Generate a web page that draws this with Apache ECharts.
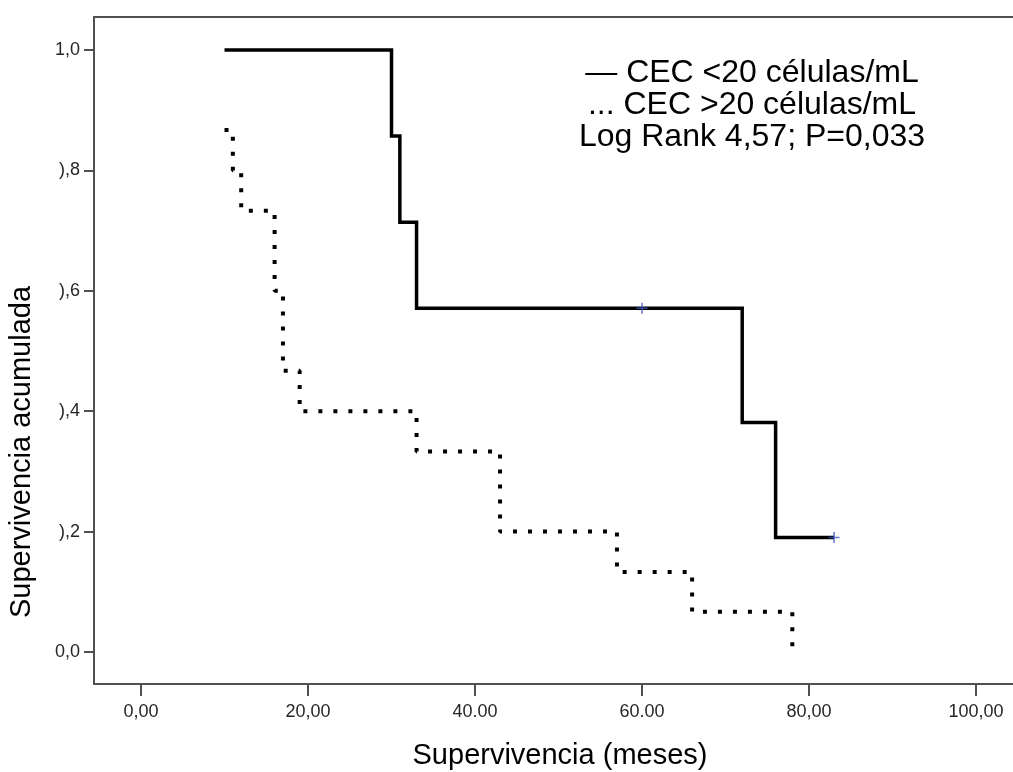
<!DOCTYPE html>
<html>
<head>
<meta charset="utf-8">
<script src="https://cdn.jsdelivr.net/npm/echarts@6/dist/echarts.min.js"></script>
<style>
html,body{margin:0;padding:0;background:#fff;}
#chart{width:1013px;height:772px;}
</style>
</head>
<body>
<div id="chart"></div>
<script>
// ---- data ----
var lowTimes = [10, 30, 31, 33, 72, 76, 83];
var lowSurv  = [1.0, 0.857, 0.714, 0.571, 0.381, 0.190, 0.190];
var highTimes = [10, 11, 12, 16, 17, 19, 33, 43, 57, 66, 78];
var highSurv  = [0.867, 0.800, 0.733, 0.600, 0.467, 0.400, 0.333, 0.200, 0.133, 0.067, 0.0];
var censorTimes = [60, 83];
var censorSurv  = [0.571, 0.190];
var xTickValues = [0, 20, 40, 60, 80, 100];
var xTickLabels = ["0,00", "20,00", "40.00", "60.00", "80,00", "100,00"];
var yTickValues = [0, 0.2, 0.4, 0.6, 0.8, 1.0];
var yTickLabels = ["0,0", "),2", "),4", "),6", "),8", "1,0"];
var legendLines = ["\u2014 CEC <20 c\u00e9lulas/mL", "... CEC >20 c\u00e9lulas/mL", "Log Rank 4,57; P=0,033"];
var xTitle = "Supervivencia (meses)";
var yTitle = "Supervivencia acumulada";

function pairs(xs, ys){ return xs.map(function(x,i){ return [x, ys[i]]; }); }
function lookup(vals, labels, v){
  for (var i=0;i<vals.length;i++){ if (Math.abs(vals[i]-v) < 1e-6) return labels[i]; }
  return '';
}

var FONT = '"Liberation Sans", Arial, sans-serif';
var axisCol = '#505050';

var chart = echarts.init(document.getElementById('chart'), null, {renderer:'canvas'});
var option = {
  backgroundColor: '#ffffff',
  animation: false,
  grid: {left: 94, right: 0, top: 17, bottom: 88, containLabel: false},
  xAxis: [{
    type: 'value', min: -5.63, max: 104.43, position: 'bottom',
    axisLine: {show: true, onZero: false, lineStyle: {color: axisCol, width: 2}},
    axisTick: {show: true, length: 12, lineStyle: {color: axisCol, width: 2}, customValues: xTickValues},
    axisLabel: {show: true, margin: 19, color: '#262626', fontSize: 18, fontFamily: FONT,
      customValues: xTickValues,
      formatter: function(v){ return lookup(xTickValues, xTickLabels, v); }},
    splitLine: {show: false}
  }, {
    type: 'value', min: -5.63, max: 104.43, position: 'top',
    axisLine: {show: true, onZero: false, lineStyle: {color: axisCol, width: 2}},
    axisTick: {show: false}, axisLabel: {show: false}, splitLine: {show: false}
  }],
  yAxis: [{
    type: 'value', min: -0.0532, max: 1.0548, position: 'left',
    axisLine: {show: true, onZero: false, lineStyle: {color: axisCol, width: 2}},
    axisTick: {show: true, length: 10, lineStyle: {color: axisCol, width: 2}, customValues: yTickValues},
    axisLabel: {show: true, margin: 14, color: '#262626', fontSize: 18, fontFamily: FONT,
      customValues: yTickValues,
      formatter: function(v){ return lookup(yTickValues, yTickLabels, v); }},
    splitLine: {show: false}
  }],
  series: [{
    name: 'CEC <20', type: 'line', step: 'end', xAxisIndex: 0,
    data: pairs(lowTimes, lowSurv), symbol: 'none',
    lineStyle: {color: '#000', width: 3.5, join: 'miter', cap: 'butt'}
  }, {
    name: 'CEC >20', type: 'line', step: 'end', xAxisIndex: 0,
    data: pairs(highTimes, highSurv), symbol: 'none',
    lineStyle: {color: '#000', width: 4, type: [4, 11], cap: 'butt'}
  }, {
    name: 'Censurado', type: 'scatter', xAxisIndex: 0,
    data: pairs(censorTimes, censorSurv),
    symbol: 'path://M4.3,0H5.7V4.3H10V5.7H5.7V10H4.3V5.7H0V4.3H4.3Z',
    symbolSize: 11, itemStyle: {color: '#3f54c0'}, z: 5
  }],
  graphic: [
    {type: 'text', x: 752, y: 73, style: {text: legendLines[0], font: '32px ' + FONT, fill: '#000', align: 'center', verticalAlign: 'middle'}},
    {type: 'text', x: 752, y: 105, style: {text: legendLines[1], font: '32px ' + FONT, fill: '#000', align: 'center', verticalAlign: 'middle'}},
    {type: 'text', x: 752, y: 137, style: {text: legendLines[2], font: '32px ' + FONT, fill: '#000', align: 'center', verticalAlign: 'middle'}},
    {type: 'text', x: 560, y: 756, style: {text: xTitle, font: '29px ' + FONT, fill: '#000', align: 'center', verticalAlign: 'middle'}},
    {type: 'text', x: 22, y: 452, rotation: Math.PI/2, style: {text: yTitle, font: '29px ' + FONT, fill: '#000', align: 'center', verticalAlign: 'middle'}}
  ]
};
chart.setOption(option);
</script>
</body>
</html>
